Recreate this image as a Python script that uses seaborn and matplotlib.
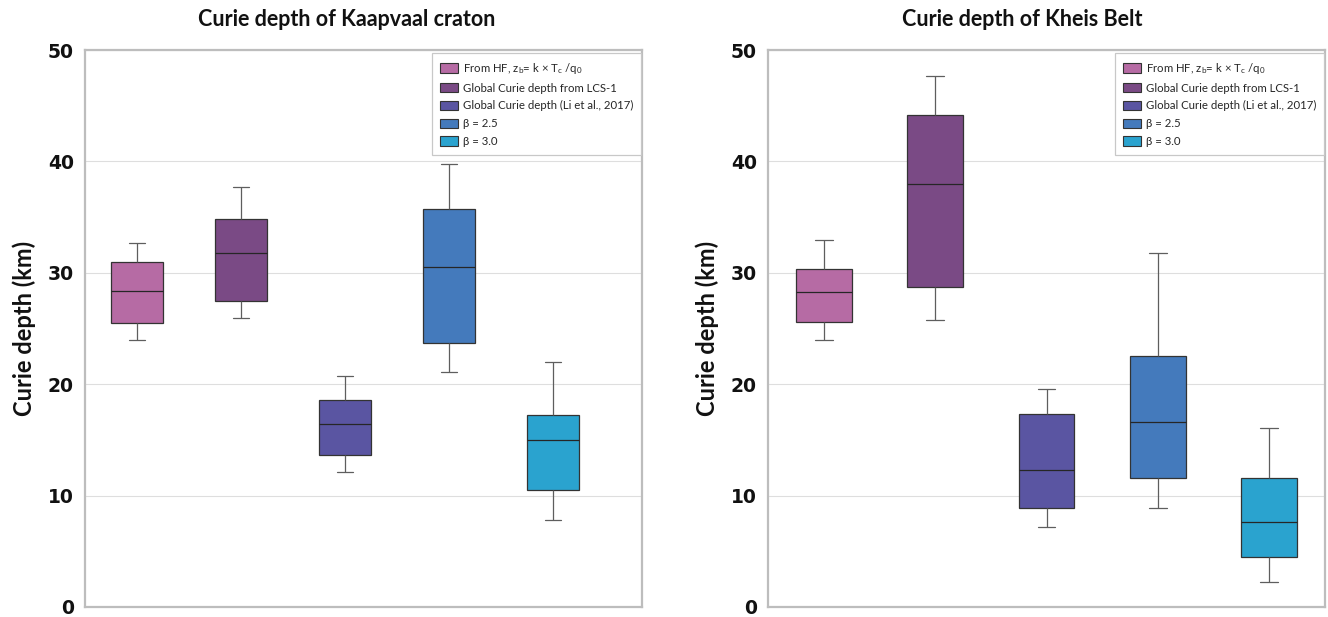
import numpy as np
import pandas as pd
import matplotlib
matplotlib.use("Agg")
import matplotlib.pyplot as plt
import seaborn as sns
from matplotlib.patches import Patch

# ---------------- data ----------------
groups = ["HF", "LCS1", "Li2017", "b25", "b30"]
legend_labels = [
    "From HF, z$_\\mathregular{b}$= k \u00d7 T$_\\mathregular{c}$ /q$_\\mathregular{0}$",
    "Global Curie depth from LCS-1",
    "Global Curie depth (Li et al., 2017)",
    "\u03b2 = 2.5",
    "\u03b2 = 3.0",
]
colors = ["#B66BA4", "#7A4A85", "#5A55A2", "#447ABC", "#2AA3CF"]

kaapvaal_whislo = [24.0, 25.9, 12.1, 21.1, 7.8]
kaapvaal_q1 = [25.5, 27.5, 13.6, 23.7, 10.5]
kaapvaal_med = [28.4, 31.8, 16.4, 30.5, 15.0]
kaapvaal_q3 = [31.0, 34.8, 18.6, 35.7, 17.2]
kaapvaal_whishi = [32.7, 37.7, 20.7, 39.8, 22.0]

kheis_whislo = [24.0, 25.8, 7.2, 8.9, 2.2]
kheis_q1 = [25.6, 28.7, 8.9, 11.6, 4.5]
kheis_med = [28.3, 38.0, 12.3, 16.6, 7.6]
kheis_q3 = [30.3, 44.2, 17.3, 22.5, 11.6]
kheis_whishi = [32.9, 47.7, 19.6, 31.8, 16.1]

y_ticks = [0, 10, 20, 30, 40, 50]

# ---------------- style ----------------
sns.set_theme(style="white")
plt.rcParams["font.family"] = ["Lato", "DejaVu Sans"]
plt.rcParams["mathtext.fontset"] = "custom"
plt.rcParams["mathtext.rm"] = "Lato"
plt.rcParams["mathtext.it"] = "Lato:italic"
plt.rcParams["mathtext.bf"] = "Lato:bold"

W, H = 1328, 617
fig = plt.figure(figsize=(W / 100, H / 100), dpi=100)
fig.patch.set_facecolor("white")

ax1 = fig.add_axes([85 / W, 10 / H, 557 / W, 557 / H])
ax2 = fig.add_axes([768 / W, 10 / H, 557 / W, 557 / H])


def draw(ax, title, title_x, lo, q1, med, q3, hi, xmax):
    rows = []
    for g, vals in zip(groups, zip(lo, q1, med, q3, hi)):
        for v in vals:
            rows.append((g, v))
    df = pd.DataFrame(rows, columns=["group", "depth"])
    sns.boxplot(
        data=df, x="group", y="depth", hue="group",
        order=groups, hue_order=groups,
        palette=dict(zip(groups, colors)), saturation=1,
        width=0.5, whis=1.5, linecolor="#333333", linewidth=0.9,
        showfliers=False, legend=False, ax=ax,
        capwidths=0.16,
        whiskerprops={"color": "#5E5E5E"},
        capprops={"color": "#5E5E5E"},
        medianprops={"color": "#262626"},
    )
    ax.set_xlim(-0.5, xmax)
    ax.set_ylim(0, 50)
    ax.set_yticks(y_ticks)
    ax.set_yticklabels([str(t) for t in y_ticks], fontfamily="DejaVu Sans",
                       fontweight="bold", fontsize=13.5, color="#111111")
    ax.set_xticks([])
    ax.set_xlabel("")
    ax.tick_params(axis="y", length=0, pad=8)
    ax.yaxis.grid(True, color="#DEDEDE", linewidth=0.8)
    ax.xaxis.grid(False)
    ax.set_axisbelow(True)
    for s in ax.spines.values():
        s.set_visible(True)
        s.set_color("#BDBDBD")
        s.set_linewidth(1.6)
    ax.set_ylabel("Curie depth (km)", fontsize=17, fontweight="bold",
                  color="#111111")
    ax.yaxis.set_label_coords(-0.088, 0.5)

    handles = [Patch(facecolor=c, edgecolor="#333333", linewidth=0.8)
               for c in colors]
    leg = ax.legend(handles, legend_labels, loc="upper right",
                    bbox_to_anchor=(0.998, 0.995), borderaxespad=0,
                    fontsize=8.2, frameon=True, fancybox=False,
                    framealpha=1, edgecolor="#C8C8C8",
                    handlelength=1.6, handleheight=0.9,
                    handletextpad=0.4, labelspacing=0.6, borderpad=0.7)
    leg.get_frame().set_linewidth(0.9)

    fig.text(title_x, 1 - 20 / H, title, ha="center", va="center",
             fontsize=15.5, fontweight="bold", color="#111111")


draw(ax1, "Curie depth of Kaapvaal craton", 347 / W,
     kaapvaal_whislo, kaapvaal_q1, kaapvaal_med, kaapvaal_q3, kaapvaal_whishi,
     -0.5 + 557 / 104)
draw(ax2, "Curie depth of Kheis Belt", 1022 / W,
     kheis_whislo, kheis_q1, kheis_med, kheis_q3, kheis_whishi,
     4.5)

fig.savefig("out.png", dpi=100, facecolor="white")
